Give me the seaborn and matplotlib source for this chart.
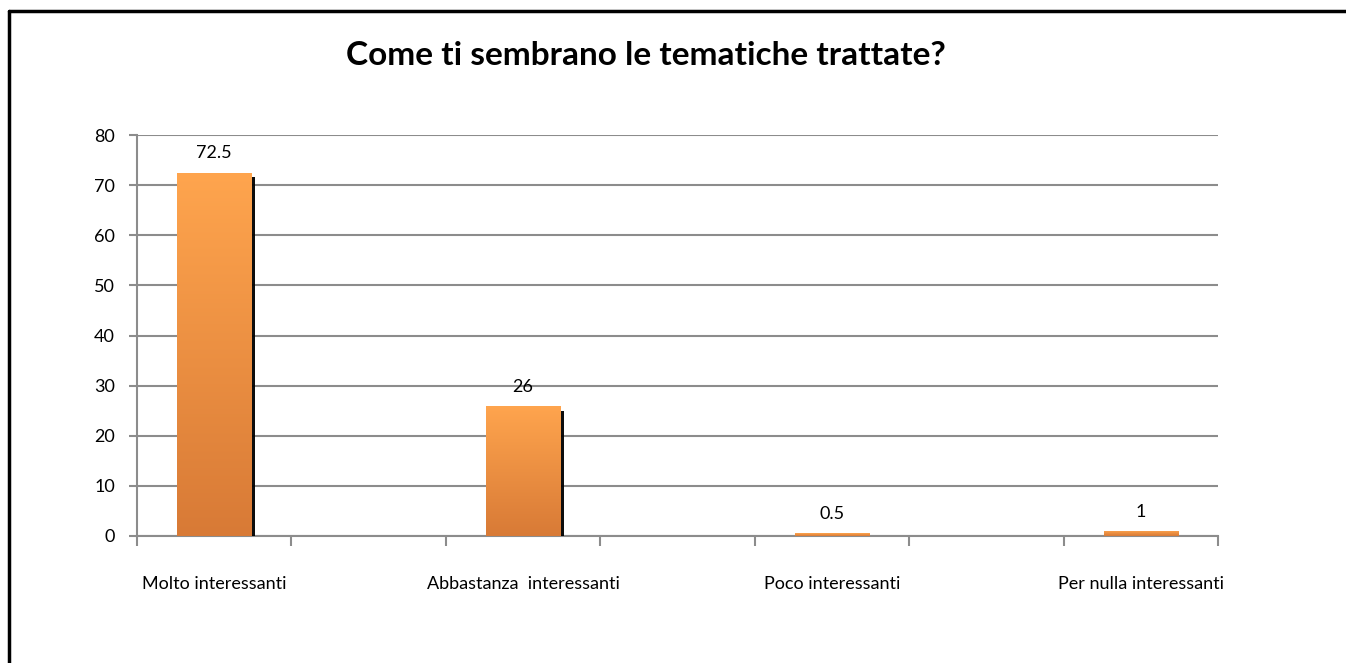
import numpy as np
import pandas as pd
import seaborn as sns
import matplotlib.pyplot as plt
from matplotlib.lines import Line2D
from matplotlib import patheffects as pe
from matplotlib.colors import LinearSegmentedColormap

# dati del grafico
categories = ["Molto interessanti", "Abbastanza  interessanti", "Poco interessanti", "Per nulla interessanti"]
values = [72.5, 26, 0.5, 1]
value_labels = ["72.5", "26", "0.5", "1"]
title = "Come ti sembrano le tematiche trattate?"

df = pd.DataFrame({"categoria": categories, "valore": values})
# slot vuoti tra una categoria e l'altra (come nel grafico originale)
spacers = [" ", "  ", "   "]
order = [categories[0], spacers[0], categories[1], spacers[1],
         categories[2], spacers[2], categories[3]]

sns.set_style("white")
plt.rcParams['font.family'] = ['Lato', 'DejaVu Sans']
plt.rcParams['text.color'] = 'black'
plt.rcParams['xtick.labelcolor'] = 'black'
plt.rcParams['ytick.labelcolor'] = 'black'

grey = "#8C8C8C"
fig = plt.figure(figsize=(13.46, 6.63), dpi=100)
ax = fig.add_axes([137 / 1346, 1 - 536 / 663, (1218 - 137) / 1346, (536 - 135) / 663])

sns.barplot(data=df, x="categoria", y="valore", order=order, color="#E4823A",
            width=0.48, ax=ax, zorder=3, errorbar=None)

# sfumatura arancione + ombra
cmap = LinearSegmentedColormap.from_list("arancio", ["#FFA54E", "#D87A36"])
grad = np.linspace(0, 1, 256).reshape(-1, 1)
for patch in ax.patches:
    bb = patch.get_bbox()
    patch.set_edgecolor("none")
    if bb.height > 5:
        patch.set_path_effects([pe.SimplePatchShadow(offset=(2.8, -3.5), shadow_rgbFace="black", alpha=0.95),
                                pe.Normal()])
    im = ax.imshow(grad, extent=[bb.x0, bb.x1, bb.y0, bb.y1], aspect="auto",
                   cmap=cmap, zorder=3.5, interpolation="bilinear")
    im.set_clip_path(patch)

ax.bar_label(ax.containers[0], labels=value_labels, padding=8, fontsize=13, color="black")

ax.set_xlim(-0.5, 6.5)
ax.set_ylim(0, 80)
ax.set_yticks(range(0, 81, 10))
ax.set_xticks(range(len(order)))
ax.set_xticklabels(order)
ax.set_xticks(np.arange(-0.5, 7, 1), minor=True)
ax.set_xlabel("")
ax.set_ylabel("")

ax.yaxis.grid(True, color=grey, lw=1.5)
ax.set_axisbelow(True)
for s in ["top", "right"]:
    ax.spines[s].set_visible(False)
for s in ["left", "bottom"]:
    ax.spines[s].set_color(grey)
    ax.spines[s].set_linewidth(1.5)

ax.tick_params(axis="y", left=True, length=6, width=1.5, color=grey, labelsize=13, pad=10)
ax.tick_params(axis="x", which="major", length=0, labelsize=13, pad=29)
ax.tick_params(axis="x", which="minor", bottom=True, length=7, width=1.5, color=grey)

fig.text(0.48, 0.917, title, ha="center", va="center", fontsize=24, fontweight="bold", color="black")

# cornice nera (solo sinistra e sopra)
fig.add_artist(Line2D([9 / 1346, 9 / 1346], [0, 1 - 11 / 663], color="black", lw=2.5))
fig.add_artist(Line2D([9 / 1346, 1], [1 - 11 / 663, 1 - 11 / 663], color="black", lw=2.5))

fig.savefig("out.png", dpi=100)
